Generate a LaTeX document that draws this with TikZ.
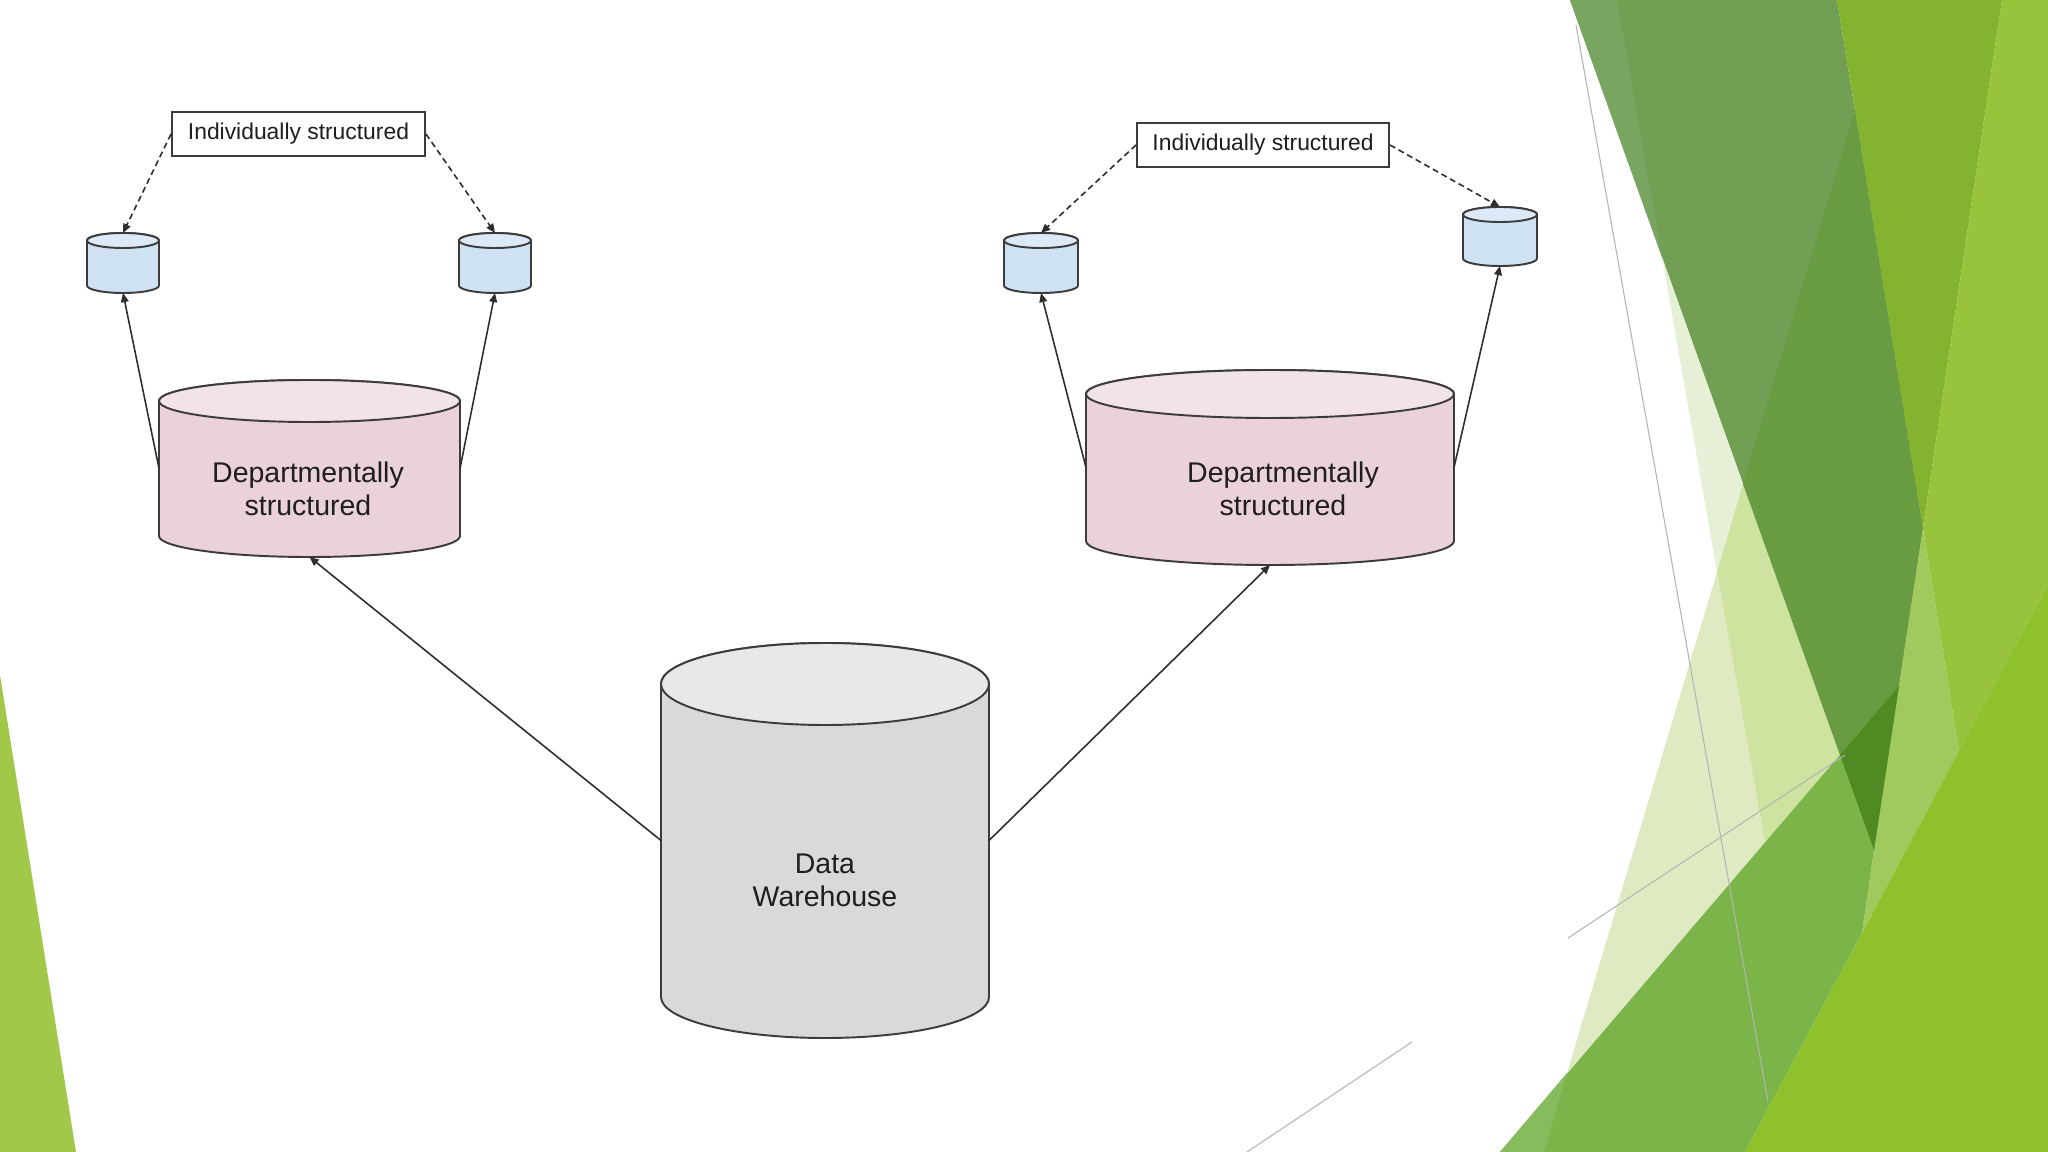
\documentclass[tikz,border=0pt]{standalone}
\usepackage{fontspec}
\setmainfont{Liberation Sans}
\usetikzlibrary{arrows.meta,fit}
\definecolor{linec}{HTML}{3C3C3C}
\definecolor{arrc}{HTML}{2E2E2E}
\definecolor{txtc}{HTML}{1E1E1E}
\definecolor{blueBody}{HTML}{CFE2F3}
\definecolor{blueTop}{HTML}{DDE9F6}
\definecolor{pinkBody}{HTML}{EAD1DC}
\definecolor{pinkTop}{HTML}{F2E2E9}
\definecolor{greyBody}{HTML}{D9D9D9}
\definecolor{greyTop}{HTML}{E8E8E8}
\definecolor{gLeft}{HTML}{A1C848}
\definecolor{gW}{HTML}{739F54}
\definecolor{gStrip}{HTML}{7AA561}
\definecolor{gTtwo}{HTML}{E6F0D6}
\definecolor{gTone}{HTML}{DFEAC3}
\definecolor{gTboth}{HTML}{CFE3A0}
\definecolor{gWd}{HTML}{699B42}
\definecolor{gCF}{HTML}{83B32F}
\definecolor{gR}{HTML}{97C43C}
\definecolor{gL}{HTML}{A0CA5D}
\definecolor{gMid}{HTML}{7BB54A}
\definecolor{gMidL}{HTML}{86BB5E}
\definecolor{gDk}{HTML}{4F8A23}
\definecolor{gBr}{HTML}{8FC12D}
\definecolor{thinline}{HTML}{B4B4B4}
\tikzset{
  cylline/.style={draw=linec, line width=0.55pt},
  ibox/.style={draw=linec, line width=0.5pt, fill=white, inner sep=0pt,
    font=\fontsize{6.5}{7.5}\selectfont, text=txtc},
  biglbl/.style={align=center, font=\fontsize{8.1}{9.4}\selectfont, text=txtc, inner sep=0pt},
  dasharrow/.style={draw=arrc, line width=0.45pt, dash pattern=on 1.7pt off 1.1pt,
    -{Triangle[length=2.6pt,width=2.2pt]}},
  solidarrow/.style={draw=arrc, line width=0.45pt, -{Triangle[length=2.6pt,width=2.2pt]}},
  anchorbox/.style={inner sep=0pt, outer sep=0pt},
  decoline/.style={draw=thinline, line width=0.3pt}
}
% name, cx, top, bottom, rx, ry, body fill, top fill
\newcommand\dbcyl[8]{%
  \path[cylline, fill=#7]
    ({#2-#5},{#3+#6}) -- ({#2-#5},{#4-#6})
    arc[start angle=180, end angle=0, x radius=#5, y radius=#6]
    -- ({#2+#5},{#3+#6})
    arc[start angle=0, end angle=-180, x radius=#5, y radius=#6] -- cycle;
  \path[cylline, fill=#8] (#2,{#3+#6}) ellipse[x radius=#5, y radius=#6];
  \node[anchorbox, fit={({#2-#5},#3) ({#2+#5},#4)}] (#1) {};
}
\begin{document}
\begin{tikzpicture}[x=0.01cm, y=-0.01cm]
\useasboundingbox (0,0) rectangle (2048,1152);
\fill[white] (0,0) rectangle (2048,1152);

% ---------- background facets ----------
\fill[gLeft] (0,675) -- (76,1152) -- (0,1152) -- cycle;
\fill[gW] (1570,0) -- (1837,0) -- (1923,528) -- (1874,850) -- cycle;
\fill[gStrip] (1570,0) -- (1617,0) -- (1662,257) -- cycle;
\fill[gTtwo] (1662,257) -- (1717,572) -- (1743,484) -- cycle;
\fill[gTone] (1717,572) -- (1567,1073) -- (1765,843) -- cycle;
\fill[gTboth] (1743,484) -- (1717,572) -- (1765,843) -- (1840,755) -- cycle;
\fill[gWd] (1855,110) -- (1923,528) -- (1874,850) -- (1743,484) -- cycle;
\fill[gCF] (1837,0) -- (2002,0) -- (1923,528) -- cycle;
\fill[gR] (2002,0) -- (2048,0) -- (2048,585) -- (1959,752) -- (1923,528) -- cycle;
\fill[gL] (1923,528) -- (1959,752) -- (1862,933) -- (1874,850) -- cycle;
\fill[gMid] (1899,686) -- (1500,1152) -- (1745,1152) -- (1862,933) -- (1874,850) -- cycle;
\fill[gMidL] (1567,1073) -- (1544,1152) -- (1500,1152) -- cycle;
\fill[gDk] (1840,755) -- (1899,686) -- (1874,850) -- cycle;
\fill[gBr] (2048,585) -- (1745,1152) -- (2048,1152) -- cycle;
\draw[decoline] (1576,25) -- (1768,1102);
\draw[decoline] (1568,938) -- (1845,755);
\draw[decoline] (1247,1152) -- (1412,1042);

% ---------- cylinders ----------
\dbcyl{dw}{825}{643}{1038}{164}{41}{greyBody}{greyTop}
\dbcyl{depL}{309.5}{380}{557}{150.5}{21}{pinkBody}{pinkTop}
\dbcyl{depR}{1270}{370}{565}{184}{24}{pinkBody}{pinkTop}
\dbcyl{indLa}{123}{233}{293}{36}{7.5}{blueBody}{blueTop}
\dbcyl{indLb}{495}{233}{293}{36}{7.5}{blueBody}{blueTop}
\dbcyl{indRa}{1041}{233}{293}{37}{7.5}{blueBody}{blueTop}
\dbcyl{indRb}{1500}{207}{266}{37}{7.5}{blueBody}{blueTop}

\node[biglbl] (dwtxt) at (825,880) {Data\\Warehouse};
\node[biglbl] (depLtxt) at (308,489) {Departmentally\\structured};
\node[biglbl] (depRtxt) at (1283,489) {Departmentally\\structured};

% ---------- label boxes ----------
\node[ibox, minimum width=2.53cm, minimum height=0.44cm] (boxL) at (298.5,134) {Individually structured};
\node[ibox, minimum width=2.52cm, minimum height=0.44cm] (boxR) at (1263,145) {Individually structured};

% ---------- connectors ----------
\draw[dasharrow] (boxL.west) -- (indLa.north);
\draw[dasharrow] (boxL.east) -- (indLb.north);
\draw[dasharrow] (boxR.west) -- (indRa.north);
\draw[dasharrow] (boxR.east) -- (indRb.north);
\draw[solidarrow] (depL.west) -- (indLa.south);
\draw[solidarrow] (depL.east) -- (indLb.south);
\draw[solidarrow] (depR.west) -- (indRa.south);
\draw[solidarrow] (depR.east) -- (indRb.south);
\draw[solidarrow] (dw.west) -- (depL.south);
\draw[solidarrow] (dw.east) -- (depR.south);
\end{tikzpicture}
\end{document}
